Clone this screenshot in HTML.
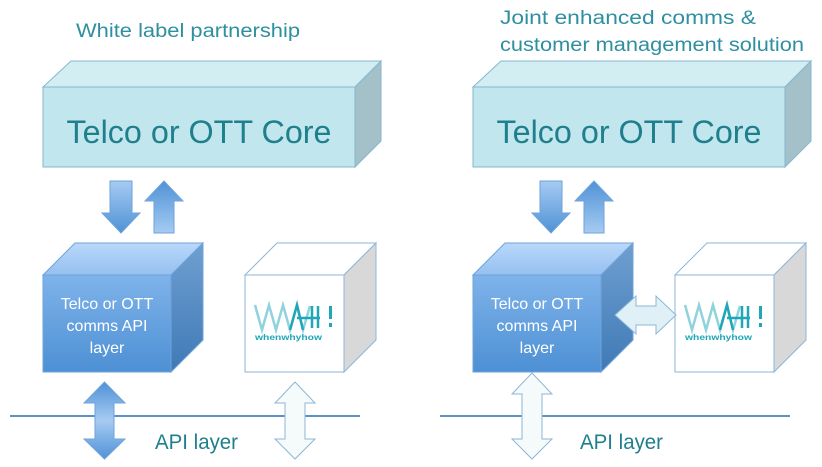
<!DOCTYPE html>
<html><head><meta charset="utf-8"><style>
html,body{margin:0;padding:0;background:#fff;}
svg{display:block;font-family:"Liberation Sans",sans-serif;}
</style></head><body>
<svg width="822" height="467" viewBox="0 0 822 467" xmlns="http://www.w3.org/2000/svg">
<defs>
<linearGradient id="bf" x1="0" y1="0" x2="0" y2="1"><stop offset="0" stop-color="#7fb3ea"/><stop offset="1" stop-color="#4d90d4"/></linearGradient>
<linearGradient id="bt" x1="0" y1="0" x2="0" y2="1"><stop offset="0" stop-color="#b9d8fb"/><stop offset="1" stop-color="#95c0f0"/></linearGradient>
<linearGradient id="bs" x1="0" y1="0" x2="0" y2="1"><stop offset="0" stop-color="#6f9fd0"/><stop offset="1" stop-color="#3f7ab6"/></linearGradient>
<linearGradient id="ar" x1="0" y1="0" x2="0" y2="1"><stop offset="0" stop-color="#a6cbf2"/><stop offset="1" stop-color="#4f92d6"/></linearGradient>
<linearGradient id="au" x1="0" y1="0" x2="0" y2="1"><stop offset="0" stop-color="#4f92d6"/><stop offset="1" stop-color="#a6cbf2"/></linearGradient>
<linearGradient id="ad" x1="0" y1="0" x2="0" y2="1"><stop offset="0" stop-color="#4f92d6"/><stop offset="0.5" stop-color="#a6cbf2"/><stop offset="1" stop-color="#4f92d6"/></linearGradient>
</defs>

<g id="L">
<!-- big box -->
<polygon points="43,87 71,61 381,61 355,87" fill="#d3eef3" stroke="#85b7cf" stroke-width="1"/>
<polygon points="355,87 381,61 381,141 355,167" fill="#a4c1c9" stroke="#85b7cf" stroke-width="1"/>
<rect x="43" y="87" width="312" height="80" fill="#c1e6ee" stroke="#85b7cf" stroke-width="1"/>
<!-- down/up arrows -->
<polygon points="110,181 132,181 132,213 140,213 121,233 102,213 110,213" fill="url(#ar)" stroke="#6fa3da" stroke-width="1"/>
<polygon points="164,181 183,201 174,201 174,233 154,233 154,201 145,201" fill="url(#au)" stroke="#6fa3da" stroke-width="1"/>
<!-- blue cube -->
<polygon points="43,275 75,243 203,243 171,275" fill="url(#bt)" stroke="#6fa3da" stroke-width="1"/>
<polygon points="171,275 203,243 203,340 171,372" fill="url(#bs)" stroke="#6fa3da" stroke-width="1"/>
<rect x="43" y="275" width="128" height="97" fill="url(#bf)" stroke="#6fa3da" stroke-width="1"/>
<!-- line -->
<line x1="10" y1="416" x2="360" y2="416" stroke="#5b93c7" stroke-width="2"/>
</g>

<text x="76" y="37" font-size="19" fill="#2e8fa0" textLength="224" lengthAdjust="spacingAndGlyphs">White label partnership</text>
<text x="199" y="143" text-anchor="middle" font-size="32" fill="#1f7f8c" textLength="265" lengthAdjust="spacingAndGlyphs">Telco or OTT Core</text>
<g font-size="16" fill="#fff" text-anchor="middle">
<text x="107" y="309">Telco or OTT</text><text x="107" y="331">comms API</text><text x="107" y="353">layer</text>
</g>

<!-- white cube left -->
<polygon points="245,275 277,243 376,243 344,275" fill="#fff" stroke="#8db6d8" stroke-width="1"/>
<polygon points="344,275 376,243 376,340 344,372" fill="#d8d8d8" stroke="#8db6d8" stroke-width="1"/>
<rect x="245" y="275" width="99" height="97" fill="#fff" stroke="#8db6d8" stroke-width="1"/>
<!-- logo left -->
<g>
<polyline points="255,305 262,330 269,305 276,330 283,305 290,330 297,305 303,330 310,306" fill="none" stroke="#8fd3dc" stroke-width="2.5"/>
<polyline points="290,330 297,305 303,330" fill="none" stroke="#1fa7b8" stroke-width="2.5"/>
<line x1="297" y1="318" x2="320" y2="318" stroke="#1fa7b8" stroke-width="2.5"/>
<line x1="312" y1="306" x2="312" y2="328" stroke="#1fa7b8" stroke-width="2.5"/>
<line x1="318" y1="306" x2="318" y2="328" stroke="#1fa7b8" stroke-width="2.5"/>
<rect x="329" y="306" width="3" height="13" fill="#1fa7b8"/><rect x="329" y="323" width="3" height="4" fill="#1fa7b8"/>
<text x="255" y="340" font-size="8.5" fill="#1fa7b8" font-weight="bold" textLength="67" lengthAdjust="spacingAndGlyphs">whenwhyhow</text>
</g>

<!-- left double arrows -->
<polygon points="104.5,382 125,403 114,403 114,439 125,439 104.5,459 84,439 95,439 95,403 84,403" fill="url(#ad)" stroke="#6fa3da" stroke-width="1"/>
<polygon points="295,382 315,403 305,403 305,439 315,439 295,459 275,439 285,439 285,403 275,403" fill="#f4fbfa" stroke="#8db6d8" stroke-width="1"/>
<text x="155" y="449" font-size="21" fill="#1f7f8c" textLength="83" lengthAdjust="spacingAndGlyphs">API layer</text>

<!-- RIGHT PANEL -->
<polygon points="473,87 501,61 811,61 785,87" fill="#d3eef3" stroke="#85b7cf" stroke-width="1"/>
<polygon points="785,87 811,61 811,141 785,167" fill="#a4c1c9" stroke="#85b7cf" stroke-width="1"/>
<rect x="473" y="87" width="312" height="80" fill="#c1e6ee" stroke="#85b7cf" stroke-width="1"/>
<polygon points="540,181 562,181 562,213 570,213 551,233 532,213 540,213" fill="url(#ar)" stroke="#6fa3da" stroke-width="1"/>
<polygon points="594,181 613,201 604,201 604,233 584,233 584,201 575,201" fill="url(#au)" stroke="#6fa3da" stroke-width="1"/>
<polygon points="473,275 505,243 633,243 601,275" fill="url(#bt)" stroke="#6fa3da" stroke-width="1"/>
<polygon points="601,275 633,243 633,340 601,372" fill="url(#bs)" stroke="#6fa3da" stroke-width="1"/>
<rect x="473" y="275" width="128" height="97" fill="url(#bf)" stroke="#6fa3da" stroke-width="1"/>
<line x1="440" y1="416" x2="790" y2="416" stroke="#5b93c7" stroke-width="2"/>

<text x="500" y="24" font-size="19" fill="#2e8fa0" textLength="256" lengthAdjust="spacingAndGlyphs">Joint enhanced comms &amp;</text>
<text x="500" y="51" font-size="19" fill="#2e8fa0" textLength="304" lengthAdjust="spacingAndGlyphs">customer management solution</text>
<text x="629" y="143" text-anchor="middle" font-size="32" fill="#1f7f8c" textLength="265" lengthAdjust="spacingAndGlyphs">Telco or OTT Core</text>
<g font-size="16" fill="#fff" text-anchor="middle">
<text x="537" y="309">Telco or OTT</text><text x="537" y="331">comms API</text><text x="537" y="353">layer</text>
</g>

<polygon points="675,275 707,243 806,243 774,275" fill="#fff" stroke="#8db6d8" stroke-width="1"/>
<polygon points="774,275 806,243 806,340 774,372" fill="#d8d8d8" stroke="#8db6d8" stroke-width="1"/>
<rect x="675" y="275" width="99" height="97" fill="#fff" stroke="#8db6d8" stroke-width="1"/>
<g>
<polyline points="685,305 692,330 699,305 706,330 713,305 720,330 727,305 733,330 740,306" fill="none" stroke="#8fd3dc" stroke-width="2.5"/>
<polyline points="720,330 727,305 733,330" fill="none" stroke="#1fa7b8" stroke-width="2.5"/>
<line x1="727" y1="318" x2="750" y2="318" stroke="#1fa7b8" stroke-width="2.5"/>
<line x1="742" y1="306" x2="742" y2="328" stroke="#1fa7b8" stroke-width="2.5"/>
<line x1="748" y1="306" x2="748" y2="328" stroke="#1fa7b8" stroke-width="2.5"/>
<rect x="759" y="306" width="3" height="13" fill="#1fa7b8"/><rect x="759" y="323" width="3" height="4" fill="#1fa7b8"/>
<text x="685" y="340" font-size="8.5" fill="#1fa7b8" font-weight="bold" textLength="67" lengthAdjust="spacingAndGlyphs">whenwhyhow</text>
</g>

<!-- horizontal double arrow -->
<polygon points="615,315 636,296 636,306 656,306 656,296 676,315 656,334 656,325 636,325 636,334" fill="#dff0f7" stroke="#8db6d8" stroke-width="1"/>
<!-- vertical white double arrow -->
<polygon points="532,373 552,394 542,394 542,439 552,439 532,459 512,439 522,439 522,394 512,394" fill="#f4fbfa" stroke="#8db6d8" stroke-width="1"/>
<text x="580" y="449" font-size="21" fill="#1f7f8c" textLength="83" lengthAdjust="spacingAndGlyphs">API layer</text>
</svg>
</body></html>
